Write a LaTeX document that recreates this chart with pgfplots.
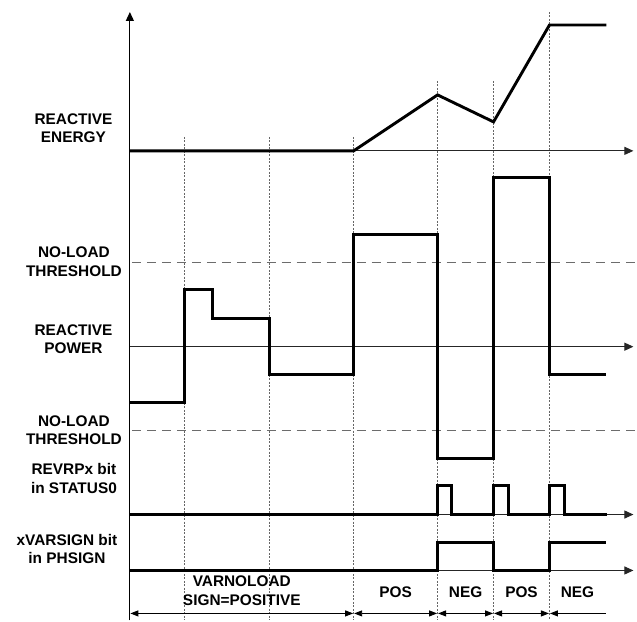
\documentclass[border=0pt]{standalone}
\usepackage{fontspec}
\setmainfont{Liberation Sans}
\usepackage{pgfplots}
\pgfplotsset{compat=1.18}
\usetikzlibrary{arrows.meta}
\tikzset{lbl/.style={font=\fontsize{15.4}{18}\selectfont\bfseries, anchor=base, inner sep=0pt}}
\begin{document}
\begin{tikzpicture}
\begin{axis}[
  width=637pt, height=621pt, scale only axis,
  xmin=0, xmax=637, ymin=0, ymax=621, y dir=reverse,
  hide axis, clip=false,
]
% bounding box
\addplot[draw=none] coordinates {(0,0) (637,621)};
% dotted verticals
\pgfplotsset{dotv/.style={gray!80!black, line width=0.7pt, dash pattern=on 2pt off 1.5pt}}
\addplot[dotv] coordinates {(185,137) (185,621)};
\addplot[dotv] coordinates {(270,137) (270,621)};
\addplot[dotv] coordinates {(354,137) (354,621)};
\addplot[dotv] coordinates {(438,81) (438,621)};
\addplot[dotv] coordinates {(494,81) (494,621)};
\addplot[dotv] coordinates {(550,12) (550,621)};
% threshold dashed lines
\addplot[gray!85!black, line width=1.2pt, dash pattern=on 9pt off 6pt] coordinates {(132,263) (637,263)};
\addplot[gray!85!black, line width=1.2pt, dash pattern=on 9pt off 6pt] coordinates {(132,431) (637,431)};
% axes
\addplot[black, line width=1.2pt, -{Triangle[length=9pt,width=8pt]}] coordinates {(130,621) (130,12)};
\addplot[black!85, line width=1pt, -{Triangle[length=9pt,width=8pt]}] coordinates {(130,151) (634,151)};
\addplot[black!85, line width=1pt, -{Triangle[length=9pt,width=8pt]}] coordinates {(130,347) (634,347)};
\addplot[black!85, line width=1pt, -{Triangle[length=9pt,width=8pt]}] coordinates {(130,515) (634,515)};
\addplot[black!85, line width=1pt, -{Triangle[length=9pt,width=8pt]}] coordinates {(130,571) (634,571)};
% signals
\pgfplotsset{sig/.style={black, line width=2.9pt, line join=miter}}
\addplot[sig] coordinates {(130,151) (354,151) (438,95) (494,122) (550,25) (607,25)};
\addplot[sig] coordinates {(130,403) (185,403) (185,290) (213,290) (213,319) (270,319) (270,375) (354,375) (354,235) (438,235) (438,459) (494,459) (494,178) (550,178) (550,375) (607,375)};
\addplot[sig] coordinates {(130,515) (438,515) (438,486) (452,486) (452,515) (494,515) (494,486) (509,486) (509,515) (550,515) (550,486) (565,486) (565,515) (608,515)};
\addplot[sig] coordinates {(130,571) (438,571) (438,543) (494,543) (494,571) (550,571) (550,543) (607,543)};
% dimension arrows
\pgfplotsset{dim/.style={black, line width=0.9pt}}
\addplot[dim, {Triangle[length=8pt,width=6pt]}-{Triangle[length=8pt,width=6pt]}] coordinates {(130.5,614) (353.5,614)};
\addplot[dim, {Triangle[length=8pt,width=6pt]}-{Triangle[length=8pt,width=6pt]}] coordinates {(354.5,614) (437.5,614)};
\addplot[dim, {Triangle[length=8pt,width=6pt]}-{Triangle[length=8pt,width=6pt]}] coordinates {(438.5,614) (493.5,614)};
\addplot[dim, {Triangle[length=8pt,width=6pt]}-{Triangle[length=8pt,width=6pt]}] coordinates {(494.5,614) (549.5,614)};
\addplot[dim, {Triangle[length=8pt,width=6pt]}-] coordinates {(550.5,614) (607,614)};
% labels
\node[lbl] at (axis cs:73.5,125) {REACTIVE};
\node[lbl] at (axis cs:73.5,143) {ENERGY};
\node[lbl] at (axis cs:74,258) {NO-LOAD};
\node[lbl] at (axis cs:74,277) {THRESHOLD};
\node[lbl] at (axis cs:73.5,336) {REACTIVE};
\node[lbl] at (axis cs:73.5,354) {POWER};
\node[lbl] at (axis cs:74,427) {NO-LOAD};
\node[lbl] at (axis cs:74,445) {THRESHOLD};
\node[lbl] at (axis cs:74,475) {REVRPx bit};
\node[lbl] at (axis cs:74,494) {in STATUS0};
\node[lbl] at (axis cs:67,546) {xVARSIGN bit};
\node[lbl] at (axis cs:67,564) {in PHSIGN};
\node[lbl] at (axis cs:242,587) {VARNOLOAD};
\node[lbl] at (axis cs:242,606) {SIGN=POSITIVE};
\node[lbl] at (axis cs:396,598) {POS};
\node[lbl] at (axis cs:466,598) {NEG};
\node[lbl] at (axis cs:522,598) {POS};
\node[lbl] at (axis cs:578,598) {NEG};
\end{axis}
\end{tikzpicture}
\end{document}
